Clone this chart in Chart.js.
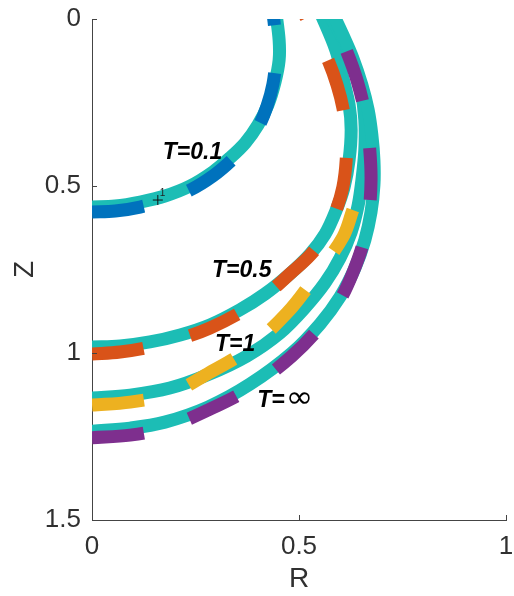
<!DOCTYPE html>
<html>
<head>
<meta charset="utf-8">
<script src="https://cdn.jsdelivr.net/npm/chart.js@4/dist/chart.umd.min.js"></script>
<style>
  html, body { margin: 0; padding: 0; background: #fff; }
  #wrap { width: 514px; height: 596px; position: relative; }
</style>
</head>
<body>
<div id="wrap"><canvas id="c" width="514" height="596"></canvas></div>
<script>
// Droplet profiles Z(R) at successive times; solid = reference profile, dashed = computed profile
const tealR_01 = [0, 0.056, 0.116, 0.176, 0.237, 0.292, 0.333, 0.370, 0.401, 0.425, 0.442, 0.452, 0.452, 0.444];
const tealZ_01 = [0.563, 0.560, 0.548, 0.530, 0.500, 0.458, 0.416, 0.371, 0.317, 0.257, 0.189, 0.123, 0.063, -0.021];
const dashR_01 = [0, 0.056, 0.116, 0.176, 0.237, 0.292, 0.338, 0.374, 0.403, 0.423, 0.437, 0.444, 0.444, 0.437];
const dashZ_01 = [0.578, 0.575, 0.563, 0.542, 0.512, 0.470, 0.422, 0.374, 0.320, 0.260, 0.195, 0.123, 0.063, -0.021];

const tealR_05 = [0, 0.068, 0.140, 0.213, 0.285, 0.357, 0.418, 0.478, 0.527, 0.563, 0.589, 0.609, 0.621, 0.626, 0.621, 0.606, 0.589, 0.551];
const tealZ_05 = [0.982, 0.979, 0.967, 0.946, 0.916, 0.871, 0.823, 0.763, 0.704, 0.644, 0.575, 0.503, 0.422, 0.332, 0.257, 0.177, 0.093, -0.021];
const dashR_05 = [0, 0.068, 0.140, 0.213, 0.285, 0.357, 0.418, 0.478, 0.527, 0.563, 0.589, 0.606, 0.614, 0.614, 0.606, 0.592, 0.572, 0.546, 0.510];
const dashZ_05 = [1.003, 0.997, 0.982, 0.958, 0.925, 0.880, 0.829, 0.763, 0.707, 0.647, 0.575, 0.503, 0.422, 0.341, 0.266, 0.198, 0.129, 0.063, -0.021];

const tealR_1 = [0, 0.092, 0.188, 0.278, 0.374, 0.454, 0.514, 0.563, 0.599, 0.626, 0.643, 0.652, 0.659, 0.659, 0.650, 0.633, 0.614, 0.592, 0.570];
const tealZ_1 = [1.135, 1.126, 1.105, 1.066, 1.009, 0.940, 0.865, 0.790, 0.716, 0.638, 0.557, 0.482, 0.392, 0.302, 0.213, 0.138, 0.078, 0.027, -0.021];
const dashR_1 = [0, 0.092, 0.188, 0.278, 0.374, 0.471, 0.539, 0.606, 0.630];
const dashZ_1 = [1.156, 1.147, 1.123, 1.063, 0.991, 0.880, 0.772, 0.653, 0.572];

const tealR_inf = [0, 0.092, 0.176, 0.280, 0.382, 0.483, 0.551, 0.599, 0.635, 0.659, 0.674, 0.681, 0.681, 0.676, 0.667, 0.652, 0.630, 0.606, 0.580];
const tealZ_inf = [1.234, 1.225, 1.207, 1.162, 1.093, 1.000, 0.913, 0.832, 0.746, 0.662, 0.578, 0.497, 0.422, 0.347, 0.272, 0.198, 0.117, 0.048, -0.021];
const dashR_inf = [0, 0.092, 0.176, 0.280, 0.382, 0.483, 0.551, 0.599, 0.630, 0.655, 0.669, 0.674, 0.671, 0.662, 0.640, 0.614, 0.592, 0.572];
const dashZ_inf = [1.254, 1.246, 1.225, 1.171, 1.105, 1.009, 0.922, 0.841, 0.760, 0.671, 0.578, 0.482, 0.392, 0.296, 0.183, 0.093, 0.033, -0.021];

// Curve annotations: "T=" prefix + value, anchored at the left end of the baseline (data units)
const curveLabelValue = ['0.1', '0.5', '1', '\u221E'];
const curveLabelR = [0.171, 0.290, 0.297, 0.399];
const curveLabelZ = [0.419, 0.772, 0.994, 1.162];

// Marked point on the T=0.1 profile
const markR = [0.159];
const markZ = [0.542];
const markText = ['1'];

// Axis ticks
const rTicks = [0, 0.5, 1];
const zTicks = [0, 0.5, 1, 1.5];

const TEAL = 'rgb(28,189,181)';
const seriesColors = ['#0072BD', '#D95319', '#EDB120', '#7E2F8E'];

const pts = (R, Z) => R.map((r, i) => ({ x: r, y: Z[i] }));

function solid(R, Z, order) {
  return { data: pts(R, Z), showLine: true, borderColor: TEAL, borderWidth: 13,
    pointRadius: 0, tension: 0.35, borderCapStyle: 'butt', borderJoinStyle: 'round', clip: 0, order };
}
function dashed(R, Z, color, order) {
  return { data: pts(R, Z), showLine: true, borderColor: color, borderWidth: 13,
    borderDash: [52, 48], pointRadius: 0, tension: 0.35, borderCapStyle: 'butt', borderJoinStyle: 'round', clip: 0, order };
}

const LABEL_FONT = 'italic bold 23px "Liberation Sans", Arial, sans-serif';
const INF_FONT = 'italic 30px "DejaVu Sans", sans-serif';

const annotate = {
  id: 'annotate',
  afterDatasetsDraw(chart) {
    const { ctx, scales: { x, y } } = chart;
    ctx.save();
    ctx.fillStyle = '#000';
    ctx.textAlign = 'left';
    ctx.textBaseline = 'alphabetic';
    curveLabelValue.forEach((v, i) => {
      const px = x.getPixelForValue(curveLabelR[i]);
      const py = y.getPixelForValue(curveLabelZ[i]);
      ctx.font = LABEL_FONT;
      const prefix = 'T=';
      ctx.fillText(prefix, px, py);
      const w = ctx.measureText(prefix).width;
      if (v === '\u221E') {
        ctx.font = INF_FONT;
        ctx.save();
        ctx.translate(px + w + 1, py);
        ctx.scale(1.1, 1);
        ctx.fillText(v, 0, 0);
        ctx.restore();
      } else {
        ctx.fillText(v, px + w, py);
      }
    });
    ctx.font = '10px "Liberation Sans", Arial, sans-serif';
    ctx.fillStyle = '#222';
    markText.forEach((t, i) => {
      ctx.fillText(t, x.getPixelForValue(markR[i]) + 2, y.getPixelForValue(markZ[i]) - 4);
    });
    ctx.restore();
  },
  afterDraw(chart) {
    const { ctx, chartArea: a, scales: { x, y } } = chart;
    ctx.save();
    ctx.strokeStyle = '#444';
    ctx.lineWidth = 1;
    ctx.beginPath();
    rTicks.forEach(v => {
      const px = Math.round(x.getPixelForValue(v)) + 0.5;
      ctx.moveTo(px, a.bottom); ctx.lineTo(px, a.bottom - 5);
    });
    zTicks.forEach(v => {
      const py = Math.round(y.getPixelForValue(v)) + 0.5;
      ctx.moveTo(a.left, py); ctx.lineTo(a.left + 5, py);
    });
    ctx.stroke();
    ctx.restore();
  }
};

const tickFont = { family: '"Liberation Sans", Arial, sans-serif', size: 26 };
const titleFont = { family: '"Liberation Sans", Arial, sans-serif', size: 28 };
const plainNumber = v => String(v);

new Chart(document.getElementById('c'), {
  type: 'scatter',
  data: {
    datasets: [
      solid(tealR_01, tealZ_01, 8),
      dashed(dashR_01, dashZ_01, seriesColors[0], 7),
      solid(tealR_05, tealZ_05, 6),
      dashed(dashR_05, dashZ_05, seriesColors[1], 5),
      solid(tealR_1, tealZ_1, 4),
      dashed(dashR_1, dashZ_1, seriesColors[2], 3),
      solid(tealR_inf, tealZ_inf, 2),
      dashed(dashR_inf, dashZ_inf, seriesColors[3], 1),
      { data: pts(markR, markZ), showLine: false, pointStyle: 'cross', pointRadius: 5,
        borderColor: '#111', borderWidth: 1, backgroundColor: '#111', order: 0 }
    ]
  },
  options: {
    responsive: false,
    animation: false,
    events: [],
    layout: { padding: { top: 19, right: 8, left: 0, bottom: 0 } },
    plugins: { legend: { display: false }, tooltip: { enabled: false } },
    scales: {
      x: {
        type: 'linear', min: 0, max: 1,
        afterFit: s => { s.height = 76; s.paddingLeft = 0; s.paddingRight = 0; },
        afterBuildTicks: s => { s.ticks = rTicks.map(v => ({ value: v })); },
        grid: { display: true, drawOnChartArea: false, drawTicks: false },
        border: { display: true, color: '#444', width: 1 },
        ticks: { font: tickFont, color: '#303030', padding: 11, maxRotation: 0, callback: plainNumber },
        title: { display: true, text: 'R', font: titleFont, color: '#303030', padding: { top: 0, bottom: 0 } }
      },
      y: {
        type: 'linear', min: 0, max: 1.5, reverse: true,
        afterFit: s => { s.width = 92; s.paddingTop = 0; s.paddingBottom = 0; },
        afterBuildTicks: s => { s.ticks = zTicks.map(v => ({ value: v })); },
        grid: { display: true, drawOnChartArea: false, drawTicks: false },
        border: { display: true, color: '#444', width: 1 },
        ticks: { font: tickFont, color: '#303030', padding: 11, callback: plainNumber },
        title: { display: true, text: 'Z', font: titleFont, color: '#303030', padding: { top: 8, bottom: 0 } }
      }
    }
  },
  plugins: [annotate]
});
</script>
</body>
</html>
